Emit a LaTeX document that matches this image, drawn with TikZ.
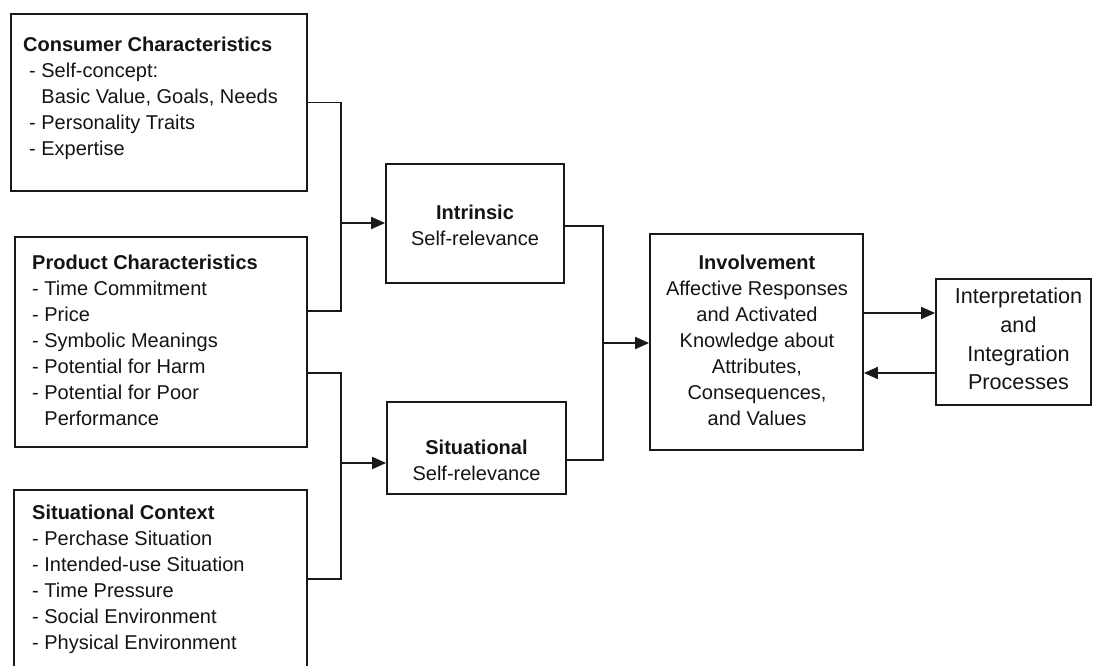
\documentclass[tikz,border=0pt]{standalone}
\usepackage{fontspec}
\setmainfont{Liberation Sans}
\usetikzlibrary{arrows.meta}

\begin{document}
\begin{tikzpicture}[x=1pt,y=-1pt,
  box/.style={draw=black!90, line width=1.8pt, rectangle, inner sep=0pt},
  txt/.style={inner sep=0pt, font=\fontsize{20}{26}\selectfont, text=black!92},
  link/.style={draw=black!90, line width=1.8pt},
  arr/.style={link, -{Triangle[length=14pt,width=12pt]}}]
\useasboundingbox (0,0) rectangle (1093,666);
\clip (0,0) rectangle (1093,666);

% left-hand column of source boxes
\node[box, minimum width=296pt, minimum height=177pt] (cons) at (159,102.5) {};
\node[box, minimum width=292pt, minimum height=210pt] (prod) at (161,342) {};
\node[box, minimum width=293pt, minimum height=210pt] (ctx) at (160.5,595) {};

\node[txt, anchor=north west, align=left] (consT) at (23,37)
  {\textbf{Consumer Characteristics}\\
   \hspace*{6pt}- Self-concept:\\
   \hspace*{6pt}\phantom{- }Basic Value, Goals, Needs\\
   \hspace*{6pt}- Personality Traits\\
   \hspace*{6pt}- Expertise};
\node[txt, anchor=north west, align=left] (prodT) at (32,255)
  {\textbf{Product Characteristics}\\
   - Time Commitment\\
   - Price\\
   - Symbolic Meanings\\
   - Potential for Harm\\
   - Potential for Poor\\
   \phantom{- }Performance};
\node[txt, anchor=north west, align=left] (ctxT) at (32,505)
  {\textbf{Situational Context}\\
   - Perchase Situation\\
   - Intended-use Situation\\
   - Time Pressure\\
   - Social Environment\\
   - Physical Environment};

% self-relevance boxes
\node[box, minimum width=178pt, minimum height=119pt] (intr) at (475,223.5) {};
\node[box, minimum width=179pt, minimum height=92pt] (sit) at (476.5,448) {};
\node[txt, anchor=north, align=center] (intrT) at (475,205)
  {\textbf{Intrinsic}\\Self-relevance};
\node[txt, anchor=north, align=center] (sitT) at (476.5,440)
  {\textbf{Situational}\\Self-relevance};

% involvement and interpretation
\node[box, minimum width=213pt, minimum height=216pt] (inv) at (756.5,342) {};
\node[txt, anchor=north, align=center] (invT) at (757,255)
  {\textbf{Involvement}\\
   Affective Responses\\
   and Activated\\
   Knowledge about\\
   Attributes,\\
   Consequences,\\
   and Values};
\node[box, minimum width=155pt, minimum height=126pt] (interp) at (1013.5,342) {};
\node[txt, anchor=north, align=center, font=\fontsize{21.6}{28.6}\selectfont] (interpT) at (1018.5,288)
  {Interpretation\\and\\Integration\\Processes};

% junctions of the bracket connectors
\coordinate (j1) at (341,223);
\coordinate (j2) at (341,463);
\coordinate (j3) at (603,343);

\draw[link] (cons.east) -| (j1) |- ([yshift=31pt]prod.east);
\draw[arr] (j1) -- (j1 -| intr.west);
\draw[link] ([yshift=-31pt]prod.east) -| (j2) |- ([yshift=16pt]ctx.east);
\draw[arr] (j2) -- (j2 -| sit.west);
\draw[link] ([yshift=-2.5pt]intr.east) -| (j3) |- ([yshift=-12pt]sit.east);
\draw[arr] (j3) -- (j3 -| inv.west);

\draw[arr] ([yshift=29pt]inv.east) -- ([yshift=29pt]interp.west);
\draw[arr] ([yshift=-31pt]interp.west) -- ([yshift=-31pt]inv.east);
\end{tikzpicture}
\end{document}
